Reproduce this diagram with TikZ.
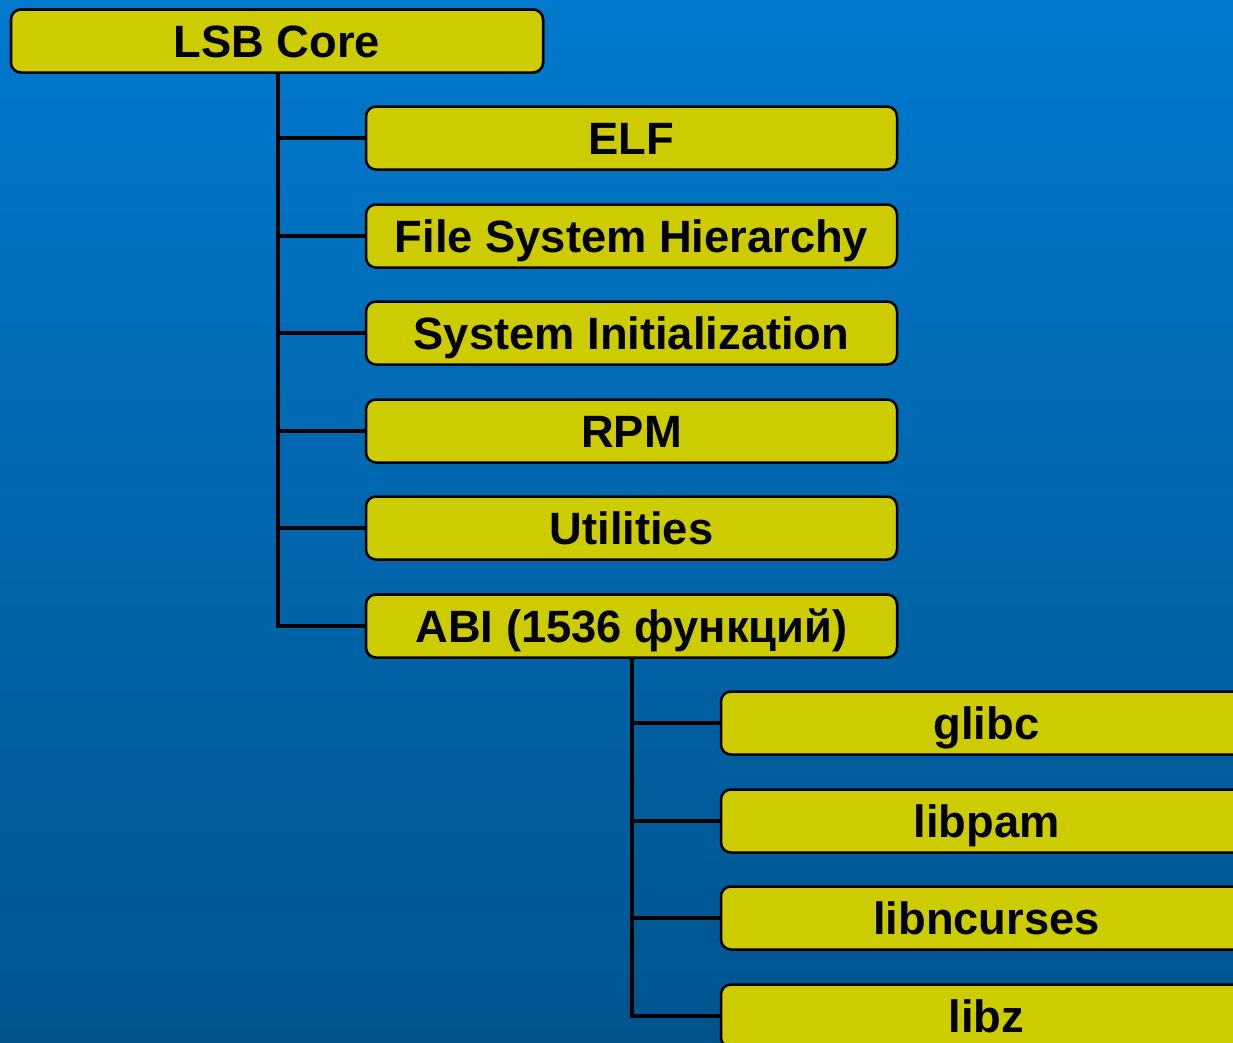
\documentclass[tikz,border=0pt]{standalone}
\usepackage{fontspec}
\setmainfont{Liberation Sans}
\definecolor{bgtop}{RGB}{0,121,206}
\definecolor{bgbot}{RGB}{0,84,141}
\definecolor{boxfill}{RGB}{204,204,0}
\tikzset{
  box/.style={draw=black, line width=2.5pt, fill=boxfill, rounded corners=10pt,
    minimum height=63pt, inner sep=0pt, text height=32.6pt, text depth=0pt,
    font=\fontsize{45.3}{45.3}\selectfont\bfseries, text=black},
  conn/.style={draw=black, line width=4.5pt}
}
\begin{document}
\begin{tikzpicture}[x=1pt,y=-1pt]
\useasboundingbox (0,0) rectangle (1233,1042);
\shade[top color=bgtop, bottom color=bgbot] (0,0) rectangle (1233,1042);
\clip (0,0) rectangle (1233,1042);
% connectors' anchor columns
\coordinate (t1) at (278,0);
\coordinate (t2) at (632,0);
% level 0
\node[box, minimum width=532pt] (core) at (277,41) {LSB Core};
% level 1
\node[box, minimum width=531pt] (elf) at (631.5,138) {ELF};
\node[box, minimum width=531pt] (fsh) at (631.5,236) {File System Hierarchy};
\node[box, minimum width=531pt] (init) at (631.5,333) {System Initialization};
\node[box, minimum width=531pt] (rpm) at (631.5,431) {RPM};
\node[box, minimum width=531pt] (util) at (631.5,528) {Utilities};
\node[box, minimum width=531pt] (abi) at (631.5,626) {ABI (1536 функций)};
% level 2
\node[box, minimum width=531pt] (glibc) at (986.5,723) {glibc};
\node[box, minimum width=531pt] (libpam) at (986.5,821) {libpam};
\node[box, minimum width=531pt] (libncurses) at (986.5,918) {libncurses};
\node[box, minimum width=531pt] (libz) at (986.5,1016) {libz};
% connectors
\draw[conn] (core.south -| t1) |- (abi.west);
\foreach \n in {elf,fsh,init,rpm,util}{
  \draw[conn] (\n.west -| t1) -- (\n.west);
}
\draw[conn] (abi.south -| t2) |- (libz.west);
\foreach \n in {glibc,libpam,libncurses}{
  \draw[conn] (\n.west -| t2) -- (\n.west);
}
% redraw boxes over connector ends
\node[box, minimum width=532pt] at (277,41) {LSB Core};
\node[box, minimum width=531pt] at (631.5,626) {ABI (1536 функций)};
\end{tikzpicture}
\end{document}
